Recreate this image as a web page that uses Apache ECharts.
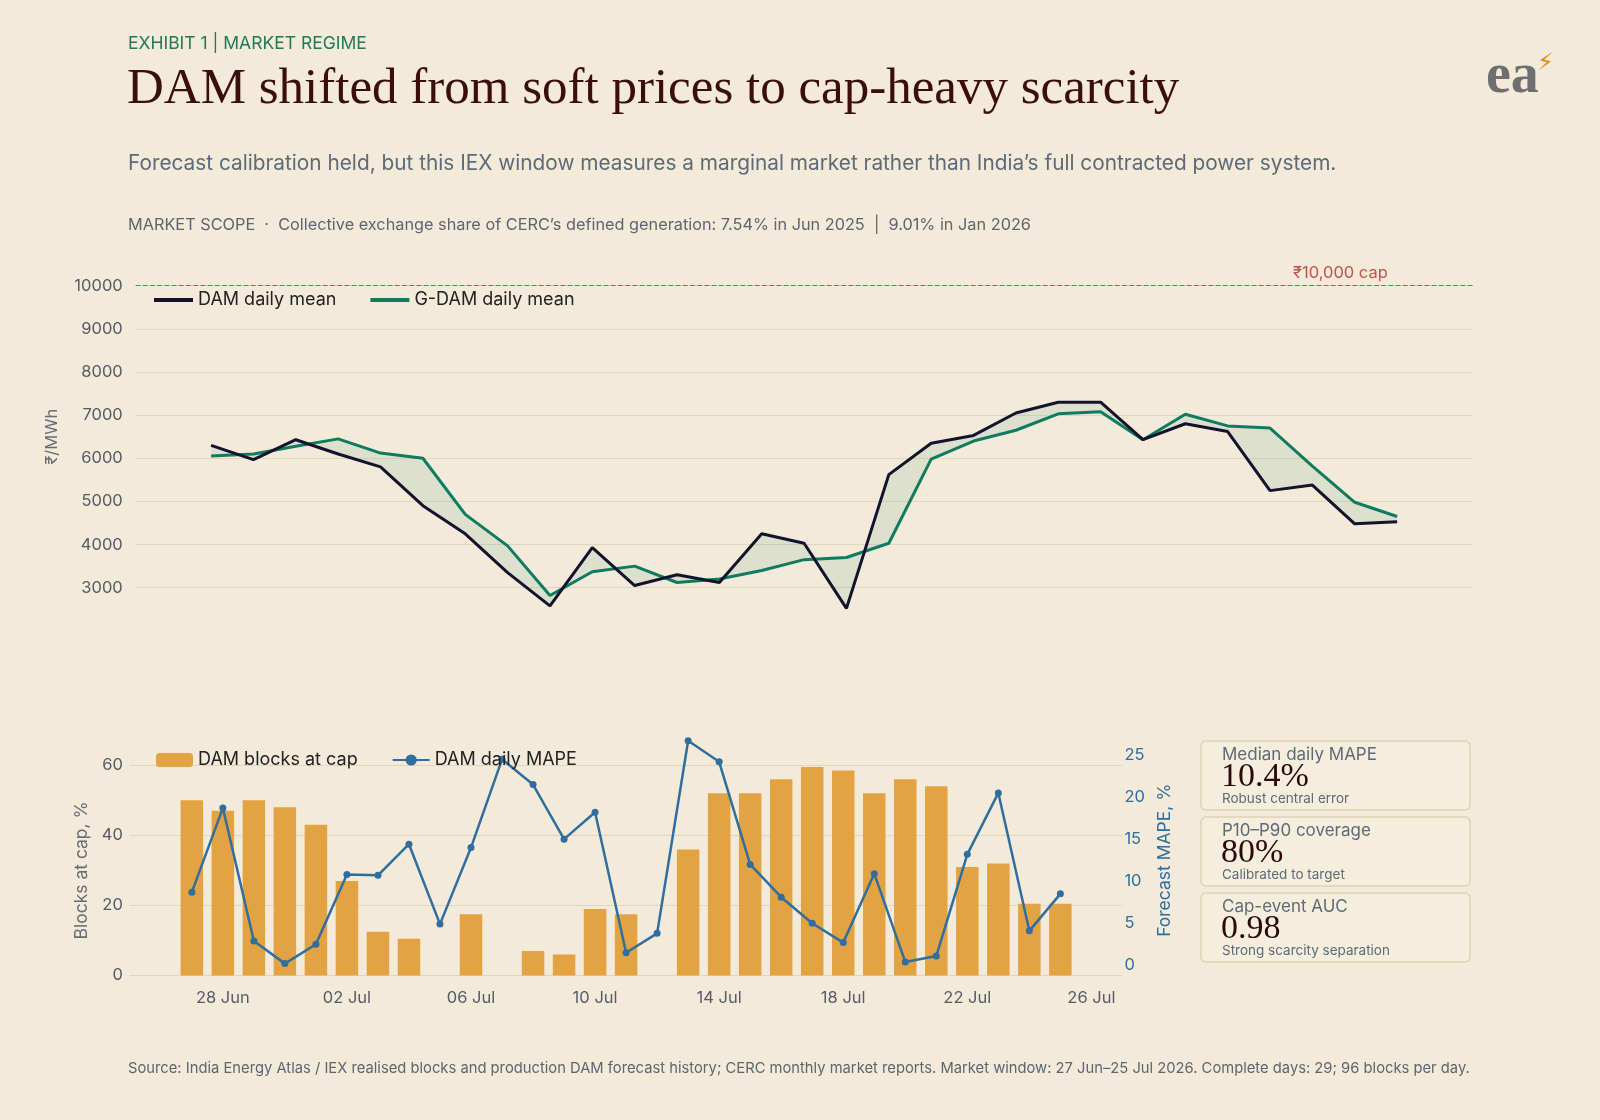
<!DOCTYPE html>
<html><head><meta charset="utf-8">
<script src="https://cdn.jsdelivr.net/npm/echarts@6/dist/echarts.min.js"></script>
<style>html,body{margin:0;padding:0;background:#f3eada}#c{width:1600px;height:1120px}</style>
</head><body><div id="c"></div>
<script>
const days = ['27 Jun','28 Jun','29 Jun','30 Jun','01 Jul','02 Jul','03 Jul','04 Jul','05 Jul','06 Jul','07 Jul','08 Jul','09 Jul','10 Jul','11 Jul','12 Jul','13 Jul','14 Jul','15 Jul','16 Jul','17 Jul','18 Jul','19 Jul','20 Jul','21 Jul','22 Jul','23 Jul','24 Jul','25 Jul','26 Jul'];
const damMean = [6300,5970,6430,6100,5800,4900,4250,3350,2580,3930,3050,3300,3120,4250,4030,2520,5620,6350,6530,7050,7300,7300,6430,6800,6620,5250,5380,4480,4530];
const gdamMean = [6050,6100,6280,6450,6120,6000,4700,3970,2820,3370,3500,3120,3200,3400,3650,3700,4030,5980,6400,6650,7030,7080,6430,7020,6750,6700,5820,4980,4650];
const blocksAtCap = [50,47,50,48,43,27,12.5,10.5,0,17.5,0,7,6,19,17.5,0,36,52,52,56,59.5,58.5,52,56,54,31,32,20.5,20.5];
const mape = [8.7,18.7,2.9,0.2,2.5,10.8,10.7,14.4,4.9,14,24.5,21.5,15,18.2,1.5,3.8,26.7,24.2,12,8.1,5,2.7,10.9,0.4,1.1,13.2,20.5,4.1,8.5];
const cards = [['Median daily MAPE','10.4%','Robust central error'],['P10–P90 coverage','80%','Calibrated to target'],['Cap-event AUC','0.98','Strong scarcity separation']];

const sans = 'Inter, "Noto Sans", sans-serif';
const navy='#13132e', green='#0f7b5f', orange='#e3a343', blue='#2f6e9e';
const chart = echarts.init(document.getElementById('c'));
const g = [];
g.push({type:'text',left:128,top:35,style:{text:'EXHIBIT 1 | MARKET REGIME',fill:'#1f7a55',font:'17.5px '+sans}});
g.push({type:'text',left:127,top:64,style:{text:'DAM shifted from soft prices to cap-heavy scarcity',fill:'#3b0d0d',font:'51px "Liberation Serif", serif'}});
g.push({type:'text',left:128,top:153,style:{text:'Forecast calibration held, but this IEX window measures a marginal market rather than India’s full contracted power system.',fill:'#5d6b78',font:'20.8px '+sans}});
g.push({type:'text',left:128,top:217,style:{text:'MARKET SCOPE  ·  Collective exchange share of CERC’s defined generation: 7.54% in Jun 2025  |  9.01% in Jan 2026',fill:'#5d6570',font:'16.3px '+sans}});
g.push({type:'text',left:1486,top:50,style:{text:'ea',fill:'#6f6f6f',font:'bold 56px "Liberation Serif", serif'}});
g.push({type:'text',left:1537,top:52,style:{text:'⚡',fill:'#e8891e',font:'24px "DejaVu Sans"'}});
g.push({type:'text',left:1293,top:265,style:{text:'₹10,000 cap',fill:'#c4524a',font:'16.5px '+sans}});
cards.forEach((c,k)=>{
  const t=741+k*76;
  g.push({type:'rect',shape:{x:1201,y:t,width:269,height:69,r:5},style:{fill:'#f6eedd',stroke:'#ddd2b8',lineWidth:1.5}});
  g.push({type:'text',left:1222,top:t+5,style:{text:c[0],fill:'#5d6b78',font:'17px '+sans}});
  g.push({type:'text',left:1221,top:t+19,style:{text:c[1],fill:'#2a0a0a',font:'34px "Liberation Serif", serif'}});
  g.push({type:'text',left:1222,top:t+51,style:{text:c[2],fill:'#5d6b78',font:'13.5px '+sans}});
});
g.push({type:'text',left:128,top:1061,style:{text:'Source: India Energy Atlas / IEX realised blocks and production DAM forecast history; CERC monthly market reports. Market window: 27 Jun–25 Jul 2026. Complete days: 29; 96 blocks per day.',fill:'#5d6570',font:'14.75px '+sans}});

chart.setOption({
  backgroundColor:'#f3eada',
  animation:false,
  textStyle:{fontFamily:sans},
  graphic:g,
  legend:[
    {data:['DAM daily mean','G-DAM daily mean'],left:149,top:286,itemWidth:39,itemHeight:4,itemGap:34,icon:'rect',textStyle:{color:'#222',fontSize:18}},
    {data:['DAM blocks at cap','DAM daily MAPE'],left:151,top:746,itemWidth:37,itemHeight:14,itemGap:34,textStyle:{color:'#222',fontSize:18}}
  ],
  grid:[
    {left:135.7,right:127.5,top:285.7,height:302},
    {left:129.8,right:477.6,top:765.3,height:210.2},
    {left:129.8,right:477.6,top:755.1,height:210.2}
  ],
  xAxis:[
    {gridIndex:0,type:'value',min:-1.78,max:29.78,show:false},
    {gridIndex:1,type:'value',min:-2,max:30,interval:1,axisLine:{show:false},axisTick:{show:false},splitLine:{show:false},
      axisLabel:{color:'#555c66',fontSize:16.5,margin:14,formatter:v=>(((v-1)%4===0&&v>=1)?days[v]:'')}},
    {gridIndex:2,type:'value',min:-2,max:30,show:false}
  ],
  yAxis:[
    {gridIndex:0,type:'value',min:3000,max:10000,interval:1000,name:'₹/MWh',nameLocation:'middle',nameGap:75,nameTextStyle:{color:'#666c75',fontSize:16.5},
      axisLabel:{color:'#555c66',fontSize:16.5,margin:13,formatter:v=>String(v)},axisLine:{show:false},axisTick:{show:false},splitLine:{lineStyle:{color:'#e0d6c0'}}},
    {gridIndex:1,type:'value',min:0,max:60,interval:20,name:'Blocks at cap, %',nameLocation:'middle',nameGap:37,nameTextStyle:{color:'#666c75',fontSize:17.5},
      axisLabel:{color:'#555c66',fontSize:16.5,margin:7},axisLine:{show:false},axisTick:{show:false},splitLine:{lineStyle:{color:'#e0d6c0'}}},
    {gridIndex:2,type:'value',min:0,max:25,interval:5,position:'right',name:'Forecast MAPE, %',nameLocation:'middle',nameGap:30,nameTextStyle:{color:blue,fontSize:17.5},
      axisLabel:{color:blue,fontSize:16.5,margin:2},axisLine:{show:false},axisTick:{show:false},splitLine:{show:false}}
  ],
  series:[
    {type:'custom',xAxisIndex:0,yAxisIndex:0,silent:true,clip:false,z:1,
      data:damMean.slice(0,-1).map((v,i)=>[i,v,damMean[i+1],gdamMean[i],gdamMean[i+1]]),
      renderItem:(params,api)=>{
        const i=api.value(0);
        const pts=[api.coord([i,api.value(1)]),api.coord([i+1,api.value(2)]),api.coord([i+1,api.value(4)]),api.coord([i,api.value(3)])];
        return {type:'polygon',shape:{points:pts},style:{fill:'rgba(40,150,90,0.11)'}};
      }},
    {name:'G-DAM daily mean',type:'line',xAxisIndex:0,yAxisIndex:0,data:gdamMean.map((v,i)=>[i,v]),symbol:'none',color:green,lineStyle:{width:3},clip:false,
      markLine:{symbol:'none',silent:true,label:{show:false},lineStyle:{color:'#c4524a',type:'dashed',width:1.2},data:[{yAxis:10000}]}},
    {name:'DAM daily mean',type:'line',xAxisIndex:0,yAxisIndex:0,data:damMean.map((v,i)=>[i,v]),symbol:'none',color:navy,lineStyle:{width:3},clip:false},
    {name:'DAM blocks at cap',type:'bar',xAxisIndex:1,yAxisIndex:1,data:blocksAtCap.map((v,i)=>[i,v]),barWidth:22.5,color:orange},
    {name:'DAM daily MAPE',type:'line',xAxisIndex:2,yAxisIndex:2,data:mape.map((v,i)=>[i,v]),color:blue,symbol:'circle',symbolSize:7,lineStyle:{width:2.5},clip:false}
  ]
});
</script></body></html>
